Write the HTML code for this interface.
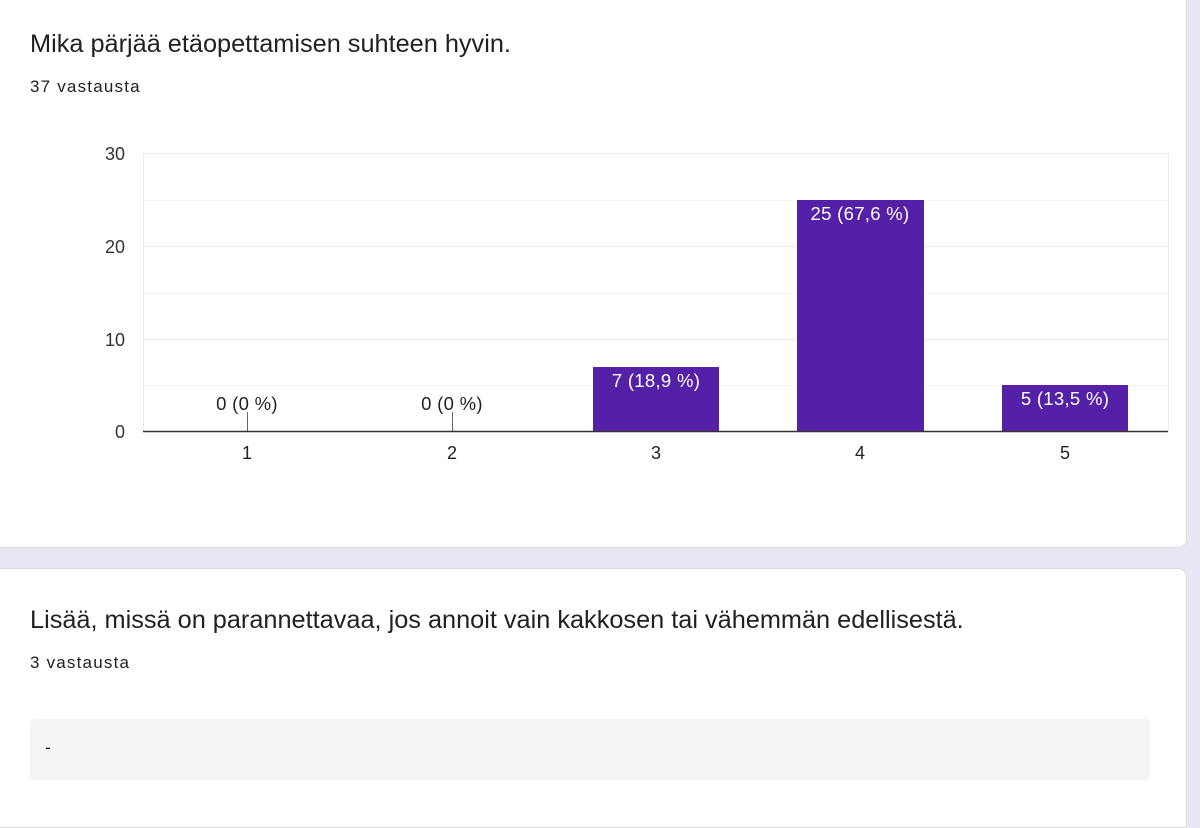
<!DOCTYPE html>
<html><head><meta charset="utf-8"><style>
html,body{margin:0;padding:0}
body{width:1200px;height:814px;background:#ebe6f5;position:relative;overflow:hidden;font-family:"Liberation Sans",Arial,sans-serif;color:#202124}
.card{position:absolute;left:-10px;width:1197px;background:#fff;border:1px solid #dadce0;box-sizing:border-box}
.t{position:absolute;font-size:25.3px;left:30px}
.s{position:absolute;font-size:17px;left:30px;letter-spacing:1.2px}
</style></head><body>
<div class="card" style="top:-10px;height:558px;border-radius:0 0 9px 9px"></div>
<div class="card" style="top:568px;height:260px;border-radius:9px 9px 0 0"></div>
<div class="t" style="top:30px">Mika pärjää etäopettamisen suhteen hyvin.</div>
<div class="s" style="top:77px">37 vastausta</div>
<svg style="position:absolute;left:0;top:0" width="1200" height="548" font-family="Liberation Sans,Arial,sans-serif">
<g stroke="#ebebeb" stroke-width="1">
<line x1="143" y1="153.5" x2="1168" y2="153.5"/>
<line x1="143" y1="200.5" x2="1168" y2="200.5" stroke="#f3f3f3"/>
<line x1="143" y1="246.5" x2="1168" y2="246.5"/>
<line x1="143" y1="293.5" x2="1168" y2="293.5" stroke="#f3f3f3"/>
<line x1="143" y1="339.5" x2="1168" y2="339.5"/>
<line x1="143" y1="385.5" x2="1168" y2="385.5" stroke="#f3f3f3"/>
<line x1="143.5" y1="153" x2="143.5" y2="431"/>
<line x1="1168.5" y1="153" x2="1168.5" y2="431"/>
</g>
<g font-size="18" fill="#333" text-anchor="end">
<text x="125" y="160">30</text><text x="125" y="253">20</text><text x="125" y="346">10</text><text x="125" y="438">0</text>
</g>
<g fill="#5420a8">
<rect x="593" y="367" width="126" height="64"/>
<rect x="797" y="200" width="127" height="231"/>
<rect x="1002" y="385" width="126" height="46"/>
</g>
<g font-size="18.5" fill="#fff" text-anchor="middle" letter-spacing="0.3">
<text x="656" y="387">7 (18,9 %)</text>
<text x="860" y="220">25 (67,6 %)</text>
<text x="1065" y="405">5 (13,5 %)</text>
</g>
<g font-size="18.5" fill="#222" text-anchor="middle" letter-spacing="0.3">
<text x="247" y="410">0 (0 %)</text>
<text x="452" y="410">0 (0 %)</text>
</g>
<g stroke="#666" stroke-width="1"><line x1="247.5" y1="412" x2="247.5" y2="431"/><line x1="452.5" y1="412" x2="452.5" y2="431"/></g>
<line x1="143" y1="431.5" x2="1168" y2="431.5" stroke="#333" stroke-width="1.6"/>
<g font-size="18" fill="#222" text-anchor="middle">
<text x="247" y="459">1</text><text x="452" y="459">2</text><text x="656" y="459">3</text><text x="860" y="459">4</text><text x="1065" y="459">5</text>
</g>
</svg>
<div class="t" style="top:606px">Lisää, missä on parannettavaa, jos annoit vain kakkosen tai vähemmän edellisestä.</div>
<div class="s" style="top:653px">3 vastausta</div>
<div style="position:absolute;left:30px;top:719px;width:1120px;height:61px;background:#f3f4f6;border-radius:4px"></div>
<div style="position:absolute;left:45px;top:738px;font-size:17px">-</div>
</body></html>
